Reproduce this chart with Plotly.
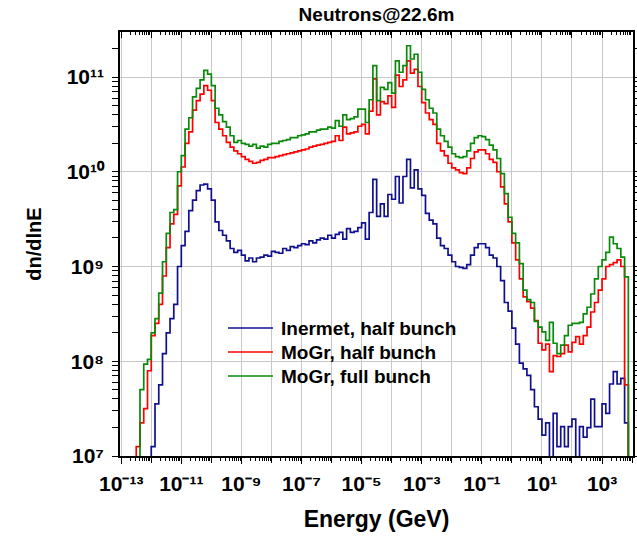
import numpy as np
import plotly.graph_objects as go

# Energy binning: uniform in log10(E/GeV), 8 bins per decade starting at 1e-13 GeV
BIN_LO = -13.0
BIN_W = 0.125
N_BINS = 136

# log10(dn/dlnE) per bin; None = empty bin
inermet_half = [
    None, None, None, None, None, None, None, None,
    7.10, 7.55, 7.75, 8.08, 8.30, 8.45, 8.60, 9.00, 9.22, 9.37,
    9.59, 9.70, 9.80, 9.86, 9.87, 9.82, 9.70, 9.47, 9.38, 9.33,
    9.27, 9.19, 9.15, 9.17, 9.12, 9.06, 9.09, 9.05, 9.09, 9.10,
    9.12, 9.11, 9.16, 9.15, 9.14, 9.19, 9.17, 9.21, 9.20, 9.22,
    9.24, 9.23, 9.27, 9.25, 9.28, 9.30, 9.29, 9.33, 9.30, 9.34,
    9.36, 9.29, 9.40, 9.36, 9.37, 9.41, 9.46, 9.29, 9.57, 9.92,
    9.53, 9.66, 9.53, 9.76, 9.71, 9.95, 9.67, 9.95, 10.13, 9.83,
    10.02, 9.82, 9.75, 9.56, 9.49, 9.45, 9.30, 9.22, 9.19, 9.12,
    9.05, 9.00, 8.99, 8.98, 9.02, 9.12, 9.20, 9.24, 9.24, 9.20,
    9.12, 9.09, 9.00, 8.85, 8.62, 8.53, 8.35, 8.18, 7.98, 7.92,
    7.85, 7.70, 7.52, 7.39, 7.22, 7.35, None, 7.45, 7.10, 7.31,
    7.10, 7.31, 7.39, None, 7.31, 7.20, 7.30, 7.60, 7.31, 7.31,
    7.55, 7.45, 7.76, 7.89, 7.76, 7.82, 7.35, None,
]

mogr_half = [
    None, None, None, None,
    7.10, 7.35, 7.50, 7.90, 8.27, 8.40, 8.60, 8.90, 9.20, 9.45,
    9.55, 9.85, 10.05, 10.30, 10.42, 10.65, 10.75, 10.82, 10.91, 10.86,
    10.75, 10.52, 10.45, 10.38, 10.31, 10.26, 10.22, 10.19, 10.16, 10.13,
    10.11, 10.09, 10.10, 10.12, 10.13, 10.15, 10.15, 10.16, 10.17, 10.18,
    10.19, 10.20, 10.21, 10.22, 10.23, 10.24, 10.26, 10.27, 10.28, 10.29,
    10.30, 10.31, 10.32, 10.38, 10.33, 10.47, 10.40, 10.41, 10.42, 10.48,
    10.50, 10.40, 10.64, 10.98, 10.60, 10.74, 10.72, 10.80, 10.68, 11.02,
    10.90, 10.97, 11.17, 11.04, 11.08, 10.90, 10.73, 10.62, 10.55, 10.50,
    10.30, 10.22, 10.17, 10.09, 10.04, 10.02, 9.99, 9.98, 10.04, 10.14,
    10.21, 10.23, 10.23, 10.19, 10.13, 10.10, 10.00, 9.84, 9.66, 9.47,
    9.25, 9.07, 8.87, 8.68, 8.63, 8.56, 8.43, 8.19, 8.12, 8.18,
    7.89, 8.06, 8.05, 8.08, 8.17, 8.10, 8.20, 8.26, 8.18, 8.27,
    8.36, 8.52, 8.62, 8.75, 8.87, 9.00, 9.02, 9.04, 9.07, 9.00,
    7.75, None,
]

mogr_full = [
    None, None, None, None, None,
    7.70, 7.97, 8.02, 8.30, 8.45, 8.72, 9.05, 9.35, 9.57, 9.60,
    10.00, 10.17, 10.45, 10.57, 10.79, 10.88, 10.97, 11.07, 11.03, 10.91,
    10.67, 10.60, 10.53, 10.47, 10.38, 10.31, 10.33, 10.30, 10.29, 10.27,
    10.29, 10.25, 10.27, 10.26, 10.29, 10.30, 10.30, 10.32, 10.33, 10.34,
    10.36, 10.36, 10.38, 10.39, 10.40, 10.42, 10.42, 10.44, 10.45, 10.45,
    10.47, 10.46, 10.54, 10.48, 10.60, 10.55, 10.56, 10.58, 10.66, 10.66,
    10.52, 10.76, 11.12, 10.75, 10.89, 10.87, 10.94, 10.83, 11.17, 11.05,
    11.12, 11.33, 11.19, 11.24, 11.05, 10.87, 10.76, 10.67, 10.62, 10.45,
    10.38, 10.32, 10.26, 10.19, 10.16, 10.15, 10.16, 10.22, 10.30, 10.36,
    10.38, 10.37, 10.34, 10.28, 10.23, 10.14, 9.98, 9.77, 9.52, 9.35,
    9.25, 9.03, 8.75, 8.65, 8.62, 8.42, 8.36, 8.31, 8.22, 8.41,
    8.19, 8.08, 8.17, 8.27, 8.38, 8.40, 8.40, 8.41, 8.50, 8.57,
    8.71, 8.87, 9.00, 9.07, 9.15, 9.31, 9.24, 9.19, 9.10, 8.89,
    None,
]

series = [
    ("Inermet, half bunch", inermet_half, "#10108f"),
    ("MoGr, half bunch", mogr_half, "#ff0000"),
    ("MoGr, full bunch", mogr_full, "#0a8a0a"),
]

X_LABEL_DECADES = list(range(-13, 4, 2))   # labelled decades on the energy axis
X_ALL_DECADES = list(range(-13, 5))
Y_DECADES = list(range(7, 12))

FONT = "Liberation Sans, Arial, sans-serif"
EMPTY = 1e3  # drawn below the axis so empty bins drop off the plot

edges = 10.0 ** (BIN_LO + BIN_W * np.arange(N_BINS + 1))

SUPERSCRIPT = str.maketrans("-0123456789", "\u207b\u2070\u00b9\u00b2\u00b3\u2074\u2075\u2076\u2077\u2078\u2079")


def power_label(k):
    return "10" + str(k).translate(SUPERSCRIPT)


def step_trace(name, logvals, color):
    y = [10.0 ** v if v is not None else EMPTY for v in logvals]
    y.append(y[-1])
    return go.Scatter(
        x=edges, y=y, mode="lines", name=name,
        line=dict(color=color, width=1.7, shape="hv"),
        showlegend=False, hoverinfo="skip",
    )


fig = go.Figure()
for name, vals, color in series:
    fig.add_trace(step_trace(name, vals, color))

# plot area in pixels
W, H = 637, 539
L, R, T, B = 120, 4, 32, 83
PW, PH = W - L - R, H - T - B


def px(xp):
    return (xp - L) / PW


def py(yp):
    return (H - B - yp) / PH


X_RANGE = [-13.04, 4.03]
x_label_vals = [10.0 ** k for k in X_LABEL_DECADES]
x_label_text = [power_label(k) for k in X_LABEL_DECADES]
x_all_vals = [10.0 ** k for k in X_ALL_DECADES]
x_even_vals = [10.0 ** k for k in X_ALL_DECADES if k % 2 == 0]
x_minor = [m * 10.0 ** k for k in range(-14, 5) for m in range(2, 10)]
y_major = [10.0 ** k for k in Y_DECADES]
y_text = [power_label(k) for k in Y_DECADES]
y_minor = [m * 10.0 ** k for k in range(6, 12) for m in range(2, 10)]

grid = "#c8c8c8"
tickfont = dict(family=FONT, size=21, color="black", weight="bold")

common = dict(
    type="log", tickcolor="black", tickwidth=1.3, ticklen=6,
    automargin=False, tickmode="array",
)

fig.update_layout(
    template="none",
    width=W, height=H,
    margin=dict(l=L, r=R, t=T, b=B),
    paper_bgcolor="white", plot_bgcolor="white",
    showlegend=False,
    font=dict(family=FONT, color="black", weight="bold"),
    title=dict(
        text="Neutrons@22.6m", x=0.5, xref="paper", xanchor="center",
        y=1 - 14 / H, yref="container", yanchor="middle",
        font=dict(family=FONT, size=19, color="black", weight="bold"),
    ),
    # bottom axis: labelled odd decades
    xaxis=dict(
        **common,
        range=X_RANGE,
        showline=True, linecolor="black", linewidth=1.5, mirror=False,
        tickvals=x_label_vals, ticktext=x_label_text, ticks="outside",
        tickfont=tickfont, ticklabelstandoff=2,
        showgrid=False,
        minor=dict(tickmode="array", tickvals=x_minor, ticks="outside",
                   ticklen=3, tickwidth=1, tickcolor="black", showgrid=False),
        title=dict(text="Energy (GeV)", standoff=17,
                   font=dict(family=FONT, size=23, color="black", weight="bold")),
    ),
    # top axis: every decade, inward ticks, carries the vertical grid
    xaxis2=dict(
        **common,
        overlaying="x", side="top", anchor="y",
        range=X_RANGE,
        showline=True, linecolor="black", linewidth=1.5,
        tickvals=x_all_vals, ticks="inside", showticklabels=False,
        showgrid=True, gridcolor=grid, gridwidth=1,
        minor=dict(tickmode="array", tickvals=x_minor, ticks="inside",
                   ticklen=3, tickwidth=1, tickcolor="black", showgrid=False),
    ),
    # bottom axis: unlabelled major ticks at the even decades
    xaxis3=dict(
        **common,
        overlaying="x", side="bottom", anchor="y",
        range=X_RANGE,
        showline=False, tickvals=x_even_vals, ticks="outside",
        showticklabels=False, showgrid=False,
    ),
    yaxis=dict(
        **common,
        range=[7.0, 11.475],
        showline=True, linecolor="black", linewidth=1.5, mirror="allticks",
        tickvals=y_major, ticktext=y_text, ticks="outside",
        tickfont=tickfont, ticklabelstandoff=4,
        showgrid=True, gridcolor=grid, gridwidth=1,
        minor=dict(tickmode="array", tickvals=y_minor, ticks="outside",
                   ticklen=3.5, tickwidth=1, tickcolor="black", showgrid=False),
        title=dict(text="dn/dlnE", standoff=20,
                   font=dict(family=FONT, size=20, color="black", weight="bold")),
    ),
)

# invisible points so the overlay axes are laid out
for ax in ("x2", "x3"):
    fig.add_trace(go.Scatter(x=[1e-12], y=[1e8], xaxis=ax, mode="markers",
                             marker=dict(opacity=0), showlegend=False,
                             hoverinfo="skip"))

# legend drawn as line samples + labels
legend_rows = [328, 352, 376]
for (name, _, color), yrow in zip(series, legend_rows):
    fig.add_shape(type="line", xref="paper", yref="paper",
                  x0=px(228), x1=px(273), y0=py(yrow), y1=py(yrow),
                  line=dict(color=color, width=1.7))
    fig.add_annotation(text=name, xref="paper", yref="paper",
                       x=px(279), y=py(yrow), xanchor="left", yanchor="middle",
                       showarrow=False,
                       font=dict(family=FONT, size=19, color="black", weight="bold"))

fig.write_html("out.html")
